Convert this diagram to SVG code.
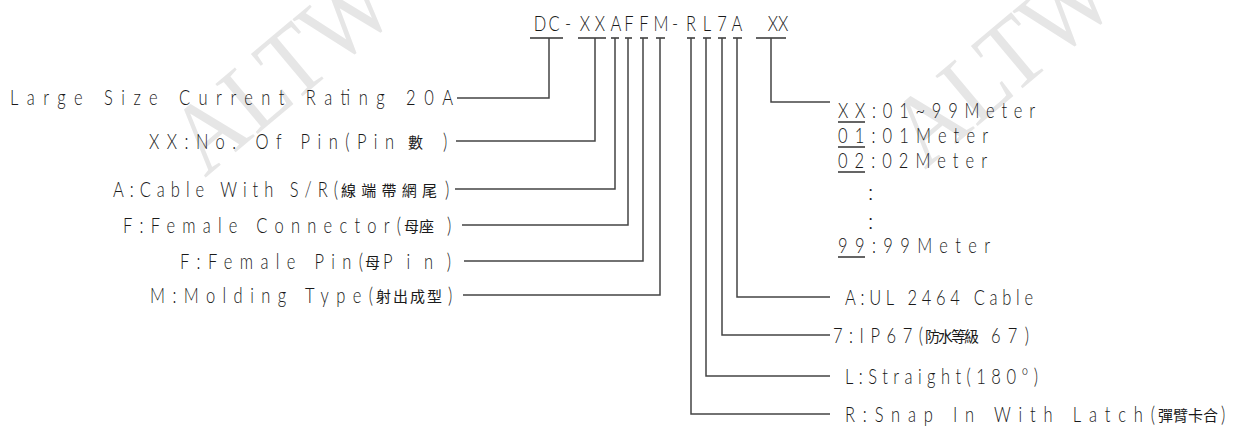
<svg xmlns="http://www.w3.org/2000/svg" width="1240" height="438" viewBox="0 0 1240 438">
<style>
.t{font-family:"Lato","Liberation Sans","DejaVu Sans",sans-serif;font-size:22px;font-weight:300;fill:#1a1a1a}
.s{transform:scale(.75,1)}
.c{font-family:"Noto Sans CJK TC","Noto Sans CJK SC",sans-serif;font-size:15px;font-weight:400;fill:#1a1a1a}
.w{font-family:"Liberation Serif",serif;font-size:100px;fill:#e6e6e6}
.l{fill:none;stroke:#444;stroke-width:1.5}
.u{fill:none;stroke:#333;stroke-width:1.3}
</style>
<rect width="1240" height="438" fill="#fff"/>
<g id="watermarks">
<text class="w" transform="translate(205,178) rotate(-40)" textLength="255" lengthAdjust="spacingAndGlyphs">ALTW</text>
<text class="w" transform="translate(925,170) rotate(-40)" textLength="255" lengthAdjust="spacingAndGlyphs">ALTW</text>
</g>
<g id="title">
<text class="t s" y="31" text-anchor="middle" x="720 738.67 757.33 780 800 821.33 838.67 858.67 881.33 900 921.33 942.67 962.67 982.67 1016 1037.33">DC-XXAFFM-RL7A XX</text>
<path class="u" d="M530 38H563M578 38H606M611 38H619M625 38H632M640 38H648M656 38H665M687 38H695M703 38H711M718 38H726M733 38H742M756 38H786"/>
</g>
<g id="connectors">
<path class="l" d="M549 38V98H457"/>
<path class="l" d="M595 38V141H456"/>
<path class="l" d="M615 38V189H455"/>
<path class="l" d="M628 38V225H462"/>
<path class="l" d="M643 38V261H464"/>
<path class="l" d="M660 38V295H463"/>
<path class="l" d="M691 38V414H830"/>
<path class="l" d="M706 38V376H830"/>
<path class="l" d="M722 38V335H830"/>
<path class="l" d="M737 38V297H830"/>
<path class="l" d="M771 38V102H830"/>
</g>
<g id="n-large"><text class="t s" x="13.33" y="105" textLength="590.67" lengthAdjust="spacing">Large Size Current Rating 20A</text></g>
<g id="n-pins">
<text class="t s" x="198.67" y="149" textLength="326.67" lengthAdjust="spacing">XX:No. Of Pin(Pin</text>
<text class="c" x="408" y="148" font-size="17">數</text>
<text class="t s" x="590.67" y="149">)</text>
</g>
<g id="n-cable">
<text class="t s" x="150.67" y="197" textLength="300" lengthAdjust="spacing">A:Cable With S/R(</text>
<text class="c" x="341" y="196" font-size="17" textLength="96" lengthAdjust="spacing">線端帶網尾</text>
<text class="t s" x="593.33" y="197">)</text>
</g>
<g id="n-fconn">
<text class="t s" x="164" y="233" textLength="370.67" lengthAdjust="spacing">F:Female Connector(</text>
<text class="c" x="404" y="232" textLength="30" lengthAdjust="spacing">母座</text>
<text class="t s" x="596" y="233">)</text>
</g>
<g id="n-fpin">
<text class="t s" x="240" y="269" textLength="244" lengthAdjust="spacing">F:Female Pin(</text>
<text class="c" x="365" y="268">母</text>
<text class="t s" x="510.67" y="269" textLength="90.67" lengthAdjust="spacing">Pin)</text>
</g>
<g id="n-mold">
<text class="t s" x="200" y="303" textLength="297.33" lengthAdjust="spacing">M:Molding Type(</text>
<text class="c" x="376" y="302" font-size="16" textLength="66" lengthAdjust="spacing">射出成型</text>
<text class="t s" x="597.33" y="303">)</text>
</g>
<g id="n-length">
<text class="t s" x="1117.33" y="118" textLength="262.67" lengthAdjust="spacing">XX:01~99Meter</text>
<text class="t s" x="1117.33" y="143" textLength="200" lengthAdjust="spacing">01:01Meter</text>
<text class="t s" x="1117.33" y="168" textLength="198.67" lengthAdjust="spacing">02:02Meter</text>
<text class="t" x="868" y="200">:</text>
<text class="t" x="868" y="229">:</text>
<text class="t s" x="1117.33" y="253" textLength="202.67" lengthAdjust="spacing">99:99Meter</text>
<path class="u" d="M838 122H865M838 147H865M838 172H865M838 257H865"/>
</g>
<g id="n-ul"><text class="t s" x="1126.67" y="305" textLength="250.67" lengthAdjust="spacing">A:UL 2464 Cable</text></g>
<g id="n-ip">
<text class="t s" x="1110.67" y="343" textLength="120" lengthAdjust="spacing">7:IP67(</text>
<text class="c" x="925" y="342" font-size="14" textLength="54" lengthAdjust="spacing">防水等級</text>
<text class="t s" x="1321.33" y="343" textLength="50.67" lengthAdjust="spacing">67)</text>
</g>
<g id="n-straight"><text class="t s" x="1126.67" y="384" textLength="257.33" lengthAdjust="spacing">L:Straight(180°)</text></g>
<g id="n-snap">
<text class="t s" x="1126.67" y="422" textLength="413.33" lengthAdjust="spacing">R:Snap In With Latch(</text>
<text class="c" x="1158" y="421" textLength="60" lengthAdjust="spacing">彈臂卡合</text>
<text class="t s" x="1628" y="422">)</text>
</g>
</svg>
